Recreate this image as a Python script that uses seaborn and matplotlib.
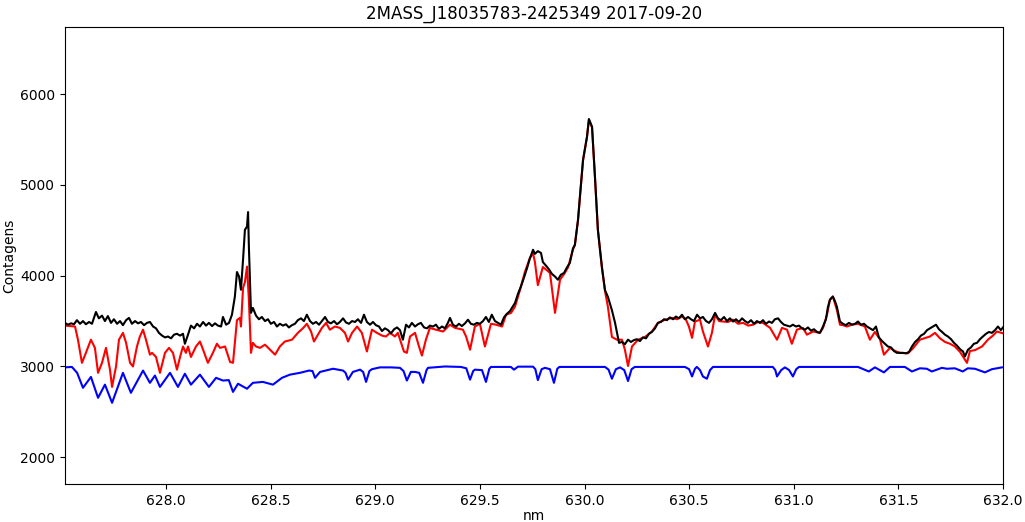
import matplotlib
matplotlib.use("Agg")
import matplotlib.pyplot as plt
import seaborn as sns

title = "2MASS_J18035783-2425349 2017-09-20"

# Combined spectrum (black)
black_nm = [627.517, 627.531, 627.546, 627.560, 627.574, 627.589, 627.603, 627.617, 627.632, 627.646,
            627.665, 627.679, 627.694, 627.708, 627.722, 627.737, 627.751, 627.766, 627.780, 627.794,
            627.809, 627.823, 627.837, 627.852, 627.866, 627.880, 627.895, 627.909, 627.923, 627.938,
            627.952, 627.966, 627.981, 627.995, 628.009, 628.024, 628.038, 628.052, 628.067, 628.081,
            628.090, 628.105, 628.119, 628.134, 628.148, 628.162, 628.177, 628.191, 628.205, 628.220,
            628.234, 628.248, 628.263, 628.272, 628.287, 628.301, 628.315, 628.329, 628.339, 628.349,
            628.358, 628.368, 628.377, 628.387, 628.392, 628.396, 628.406, 628.415, 628.430, 628.444,
            628.458, 628.473, 628.487, 628.501, 628.516, 628.530, 628.544, 628.559, 628.573, 628.587,
            628.602, 628.616, 628.630, 628.645, 628.659, 628.673, 628.688, 628.702, 628.717, 628.731,
            628.745, 628.760, 628.774, 628.788, 628.803, 628.817, 628.831, 628.846, 628.860, 628.874,
            628.889, 628.903, 628.917, 628.932, 628.946, 628.960, 628.975, 628.989, 629.003, 629.018,
            629.032, 629.046, 629.061, 629.075, 629.090, 629.104, 629.118, 629.132, 629.147, 629.161,
            629.175, 629.190, 629.204, 629.218, 629.233, 629.247, 629.261, 629.276, 629.290, 629.304,
            629.319, 629.333, 629.347, 629.357, 629.371, 629.386, 629.400, 629.414, 629.429, 629.443,
            629.457, 629.471, 629.486, 629.500, 629.515, 629.529, 629.543, 629.557, 629.572, 629.586,
            629.601, 629.615, 629.629, 629.644, 629.653, 629.668, 629.682, 629.696, 629.711, 629.725,
            629.739, 629.754, 629.763, 629.777, 629.792, 629.801, 629.816, 629.830, 629.844, 629.859,
            629.873, 629.887, 629.902, 629.916, 629.930, 629.945, 629.954, 629.969, 629.978, 629.993,
            630.012, 630.021, 630.036, 630.050, 630.064, 630.083, 630.098, 630.112, 630.131, 630.146,
            630.165, 630.179, 630.193, 630.208, 630.222, 630.236, 630.250, 630.265, 630.279, 630.294,
            630.308, 630.322, 630.337, 630.351, 630.365, 630.380, 630.394, 630.408, 630.423, 630.437,
            630.451, 630.466, 630.480, 630.495, 630.509, 630.523, 630.538, 630.552, 630.566, 630.581,
            630.595, 630.609, 630.624, 630.638, 630.652, 630.667, 630.681, 630.695, 630.710, 630.724,
            630.738, 630.753, 630.767, 630.781, 630.796, 630.810, 630.824, 630.839, 630.853, 630.867,
            630.882, 630.896, 630.910, 630.925, 630.939, 630.953, 630.968, 630.982, 630.996, 631.011,
            631.025, 631.039, 631.054, 631.068, 631.082, 631.097, 631.111, 631.125, 631.140, 631.154,
            631.163, 631.173, 631.187, 631.197, 631.206, 631.221, 631.235, 631.249, 631.264, 631.278,
            631.293, 631.307, 631.321, 631.336, 631.350, 631.364, 631.379, 631.393, 631.407, 631.422,
            631.436, 631.450, 631.465, 631.479, 631.493, 631.508, 631.522, 631.537, 631.551, 631.565,
            631.580, 631.594, 631.608, 631.623, 631.637, 631.651, 631.666, 631.680, 631.694, 631.709,
            631.723, 631.737, 631.752, 631.766, 631.780, 631.795, 631.809, 631.818, 631.833, 631.847,
            631.861, 631.876, 631.890, 631.904, 631.919, 631.933, 631.947, 631.962, 631.976, 631.990,
            632.000]
black_counts = [3480, 3460, 3475, 3465, 3510, 3470, 3500, 3465, 3490, 3470,
                3600, 3530, 3560, 3500, 3555, 3480, 3520, 3470, 3500, 3455,
                3510, 3535, 3470, 3500, 3475, 3490, 3455, 3480, 3490, 3440,
                3420, 3370, 3340, 3320, 3330, 3310, 3350, 3360, 3340, 3360,
                3250, 3350, 3450, 3420, 3470, 3440, 3490, 3450, 3480, 3445,
                3475, 3450, 3440, 3545, 3460, 3480, 3570, 3770, 4040, 3990,
                3845, 4175, 4505, 4540, 4700, 4315, 3590, 3645, 3560, 3520,
                3545, 3500, 3520, 3470, 3490, 3440, 3470, 3450, 3465, 3430,
                3455, 3470, 3510, 3530, 3500, 3570, 3500, 3470, 3490, 3460,
                3500, 3545, 3490, 3475, 3500, 3465, 3490, 3530, 3485, 3470,
                3500, 3490, 3520, 3480, 3570, 3490, 3460, 3490, 3455, 3440,
                3390, 3420, 3400, 3365, 3410, 3430, 3400, 3295, 3460, 3430,
                3480, 3440, 3465, 3480, 3430, 3420, 3450, 3440, 3460, 3415,
                3440, 3420, 3480, 3535, 3460, 3440, 3470, 3445, 3475, 3515,
                3470, 3460, 3480, 3470, 3500, 3545, 3490, 3570, 3500, 3480,
                3460, 3540, 3580, 3610, 3645, 3700, 3800, 3880, 3980, 4080,
                4190, 4285, 4240, 4270, 4250, 4150, 4110, 4070, 4020, 3990,
                3955, 4010, 4030, 4090, 4140, 4300, 4340, 4615, 4870, 5275,
                5530, 5725, 5640, 5090, 4505, 4100, 3840, 3765, 3620, 3480,
                3260, 3270, 3245, 3295, 3270, 3290, 3300, 3280, 3320, 3310,
                3360, 3380, 3420, 3480, 3490, 3520, 3510, 3540, 3520, 3550,
                3530, 3570, 3520, 3545, 3520, 3500, 3570, 3530, 3545, 3500,
                3480, 3520, 3590, 3530, 3510, 3545, 3500, 3530, 3495, 3520,
                3490, 3530, 3500, 3480, 3510, 3470, 3500, 3480, 3510, 3470,
                3495, 3480, 3520, 3530, 3490, 3460, 3450, 3440, 3460, 3440,
                3450, 3420, 3405, 3430, 3395, 3410, 3380, 3370, 3440, 3520,
                3650, 3735, 3770, 3720, 3660, 3495, 3470, 3455, 3480, 3460,
                3470, 3495, 3460, 3470, 3440, 3420, 3400, 3440, 3320, 3280,
                3250, 3220, 3210, 3170, 3150, 3150, 3150, 3145, 3160, 3220,
                3270, 3300, 3340, 3360, 3400, 3420, 3440, 3460, 3410, 3380,
                3350, 3330, 3300, 3260, 3230, 3190, 3165, 3110, 3185, 3210,
                3250, 3260, 3300, 3330, 3360, 3380, 3370, 3400, 3440, 3400,
                3430]

# Stellar spectrum (red)
red_nm = [627.517, 627.541, 627.565, 627.579, 627.598, 627.617, 627.641, 627.660, 627.675, 627.694,
          627.713, 627.732, 627.742, 627.761, 627.775, 627.794, 627.809, 627.828, 627.842, 627.861,
          627.875, 627.890, 627.904, 627.923, 627.933, 627.952, 627.971, 627.995, 628.014, 628.033,
          628.052, 628.067, 628.081, 628.095, 628.105, 628.119, 628.143, 628.162, 628.177, 628.200,
          628.224, 628.243, 628.258, 628.282, 628.306, 628.320, 628.329, 628.339, 628.353, 628.358,
          628.368, 628.377, 628.387, 628.396, 628.406, 628.415, 628.430, 628.449, 628.473, 628.497,
          628.521, 628.544, 628.568, 628.602, 628.630, 628.654, 628.673, 628.693, 628.707, 628.721,
          628.745, 628.765, 628.783, 628.807, 628.831, 628.855, 628.870, 628.889, 628.913, 628.936,
          628.960, 628.984, 629.008, 629.032, 629.051, 629.070, 629.094, 629.108, 629.137, 629.151,
          629.166, 629.190, 629.209, 629.223, 629.242, 629.261, 629.290, 629.324, 629.357, 629.381,
          629.419, 629.434, 629.453, 629.476, 629.500, 629.524, 629.553, 629.577, 629.606, 629.625,
          629.649, 629.668, 629.692, 629.715, 629.739, 629.754, 629.763, 629.777, 629.801, 629.820,
          629.835, 629.859, 629.883, 629.906, 629.921, 629.945, 629.954, 629.969, 629.978, 629.993,
          630.012, 630.021, 630.036, 630.050, 630.064, 630.083, 630.098, 630.112, 630.131, 630.155,
          630.179, 630.193, 630.208, 630.227, 630.256, 630.289, 630.322, 630.351, 630.385, 630.418,
          630.442, 630.466, 630.485, 630.499, 630.514, 630.528, 630.552, 630.566, 630.590, 630.609,
          630.624, 630.643, 630.662, 630.686, 630.710, 630.734, 630.758, 630.782, 630.806, 630.829,
          630.853, 630.887, 630.920, 630.944, 630.968, 630.991, 631.015, 631.044, 631.063, 631.092,
          631.125, 631.140, 631.159, 631.173, 631.187, 631.206, 631.221, 631.235, 631.254, 631.278,
          631.307, 631.340, 631.364, 631.388, 631.412, 631.431, 631.460, 631.484, 631.508, 631.546,
          631.570, 631.603, 631.651, 631.675, 631.699, 631.723, 631.747, 631.770, 631.795, 631.809,
          631.828, 631.842, 631.866, 631.900, 631.928, 631.952, 631.971, 632.000]
red_counts = [3450, 3445, 3440, 3295, 3040, 3150, 3295, 3205, 2930, 3040,
              3205, 2965, 2775, 3000, 3295, 3370, 3260, 3040, 3000, 3220,
              3330, 3405, 3295, 3130, 3150, 3105, 2930, 3150, 3205, 3150,
              2965, 3105, 3220, 3150, 3220, 3105, 3220, 3275, 3185, 3040,
              3150, 3250, 3205, 3220, 3050, 3040, 3260, 3510, 3535, 3440,
              3865, 3930, 4100, 3730, 3150, 3260, 3220, 3205, 3240, 3185,
              3130, 3220, 3275, 3295, 3370, 3420, 3470, 3385, 3275, 3330,
              3425, 3480, 3405, 3440, 3425, 3370, 3275, 3370, 3440, 3370,
              3165, 3405, 3370, 3340, 3330, 3370, 3330, 3370, 3165, 3150,
              3330, 3370, 3220, 3120, 3295, 3425, 3405, 3385, 3460, 3425,
              3405, 3330, 3185, 3440, 3470, 3220, 3470, 3460, 3440, 3570,
              3590, 3660, 3845, 4040, 4195, 4245, 4150, 3895, 4095, 4060,
              4030, 3590, 3955, 4030, 4090, 4290, 4335, 4610, 4860, 5270,
              5530, 5715, 5630, 5080, 4500, 4090, 3830, 3655, 3325, 3295,
              3295, 3185, 3005, 3220, 3295, 3325, 3385, 3480, 3515, 3535,
              3520, 3550, 3515, 3440, 3315, 3495, 3515, 3385, 3220, 3370,
              3570, 3500, 3495, 3490, 3515, 3470, 3480, 3450, 3460, 3490,
              3480, 3425, 3295, 3425, 3405, 3250, 3405, 3425, 3350, 3385,
              3370, 3425, 3570, 3735, 3770, 3625, 3460, 3455, 3440, 3460,
              3470, 3440, 3295, 3380, 3300, 3130, 3205, 3170, 3150, 3145,
              3200, 3295, 3330, 3370, 3310, 3270, 3250, 3220, 3160, 3110,
              3040, 3170, 3180, 3220, 3295, 3340, 3385, 3365]

# Telluric spectrum (blue)
blue_nm = [627.517, 627.550, 627.575, 627.603, 627.641, 627.675, 627.708, 627.742, 627.794, 627.832,
           627.890, 627.923, 627.947, 627.971, 628.019, 628.057, 628.090, 628.119, 628.162, 628.205,
           628.239, 628.272, 628.300, 628.320, 628.344, 628.387, 628.415, 628.463, 628.511, 628.554,
           628.592, 628.640, 628.683, 628.700, 628.712, 628.736, 628.798, 628.846, 628.858, 628.870,
           628.893, 628.927, 628.942, 628.956, 628.972, 628.984, 629.022, 629.075, 629.118, 629.135,
           629.151, 629.170, 629.190, 629.210, 629.228, 629.245, 629.252, 629.333, 629.409, 629.435,
           629.453, 629.468, 629.476, 629.510, 629.529, 629.545, 629.553, 629.648, 629.663, 629.682,
           629.754, 629.765, 629.777, 629.795, 629.811, 629.835, 629.854, 629.870, 629.880, 630.098,
           630.115, 630.131, 630.150, 630.170, 630.190, 630.208, 630.225, 630.240, 630.480, 630.500,
           630.514, 630.528, 630.537, 630.552, 630.566, 630.585, 630.600, 630.614, 630.900, 630.912,
           630.920, 630.940, 630.958, 630.978, 630.996, 631.012, 631.025, 631.307, 631.359, 631.388,
           631.431, 631.460, 631.531, 631.565, 631.603, 631.636, 631.660, 631.708, 631.732, 631.770,
           631.808, 631.832, 631.866, 631.914, 631.947, 631.995]
blue_counts = [2990, 2995, 2930, 2765, 2885, 2655, 2800, 2600, 2930, 2710,
               2955, 2820, 2900, 2775, 2930, 2775, 2920, 2800, 2910, 2775,
               2875, 2845, 2850, 2720, 2810, 2755, 2820, 2830, 2800, 2875,
               2910, 2930, 2955, 2950, 2875, 2940, 2975, 2955, 2930, 2855,
               2940, 2965, 2940, 2830, 2950, 2970, 2990, 2990, 2985, 2950,
               2845, 2940, 2940, 2930, 2820, 2960, 2985, 3000, 2995, 2980,
               2855, 2950, 2965, 2960, 2830, 2975, 2995, 2995, 2965, 2998,
               2998, 2970, 2850, 2970, 2985, 2970, 2820, 2975, 2995, 2995,
               2965, 2865, 2970, 2990, 2960, 2840, 2970, 2995, 2995, 2970,
               2890, 2975, 2995, 2960, 2890, 2865, 2960, 2995, 2995, 2960,
               2890, 2960, 2990, 2960, 2890, 2970, 2995, 2995, 2945, 2990,
               2935, 2995, 2995, 2945, 2980, 2975, 2945, 2985, 2975, 2980,
               2945, 2980, 2975, 2935, 2970, 2990]

fig, ax = plt.subplots(figsize=(10.25, 5.22), dpi=100)
fig.subplots_adjust(left=0.0634, right=0.9785, bottom=0.0728, top=0.9483)

sns.lineplot(x=blue_nm, y=blue_counts, color="blue", estimator=None, sort=False,
             linewidth=1.5, ax=ax)
sns.lineplot(x=red_nm, y=red_counts, color="red", estimator=None, sort=False,
             linewidth=1.5, ax=ax)
sns.lineplot(x=black_nm, y=black_counts, color="black", estimator=None, sort=False,
             linewidth=1.5, ax=ax)

ax.set_xlim(627.517, 632.0)
ax.set_ylim(1706, 6738)
ax.set_title(title)
ax.set_xlabel("nm", labelpad=1)
ax.set_ylabel("Contagens", labelpad=3)

fig.savefig("out.png", dpi=100)
